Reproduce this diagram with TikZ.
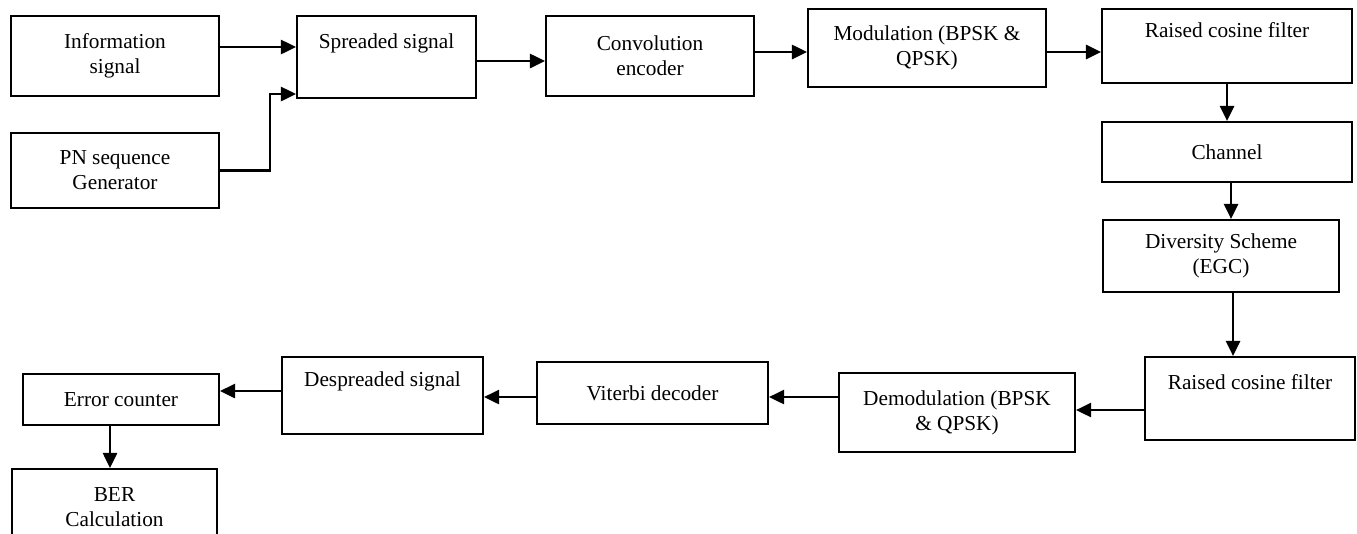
\documentclass[tikz,border=0pt]{standalone}
\usepackage{fontspec}
\setmainfont{Liberation Serif}
\usetikzlibrary{arrows.meta,calc}

\begin{document}
\begin{tikzpicture}[x=1pt, y=-1pt, line join=miter,
  blk/.style={draw, line width=2.1pt, align=center, inner sep=0pt,
              font=\fontsize{21.3}{25}\selectfont},
  arr/.style={line width=2.7pt, -{Triangle[length=15pt,width=14pt]}}]
  \useasboundingbox (0,0) rectangle (1357,533);

  %--- transmitter row ------------------------------------------------------
  \node[blk, minimum width=208pt, minimum height=80pt] (info)   at (115,56)    {Information\\signal};
  \node[blk, minimum width=208pt, minimum height=75pt] (pn)     at (115,170.5) {PN sequence\\Generator};
  \node[blk, minimum width=179pt, minimum height=82pt] (spread) at (386.5,57)  {Spreaded signal\\\strut};
  \node[blk, minimum width=208pt, minimum height=80pt] (conv)   at (650,56)    {Convolution\\encoder};
  \node[blk, minimum width=238pt, minimum height=78pt] (mod)    at (927,48)    {Modulation (BPSK \&\\QPSK)};
  \node[blk, minimum width=250pt, minimum height=74pt] (rcTx)   at (1227,46)   {Raised cosine filter\\\strut};

  %--- channel column -------------------------------------------------------
  \node[blk, minimum width=250pt, minimum height=60pt] (chan)   at (1227,152)  {Channel};
  \node[blk, minimum width=236pt, minimum height=72pt] (div)    at (1221,256)  {Diversity Scheme\\(EGC)};

  %--- receiver row ---------------------------------------------------------
  \node[blk, minimum width=210pt, minimum height=83pt] (rcRx)   at (1250,398.5) {Raised cosine filter\\\strut};
  \node[blk, minimum width=236pt, minimum height=79pt] (demod)  at (957,412.5)  {Demodulation (BPSK\\\& QPSK)};
  \node[blk, minimum width=231pt, minimum height=62pt] (vit)    at (652.5,393)  {Viterbi decoder};
  \node[blk, minimum width=201pt, minimum height=77pt] (desp)   at (382.5,395.5) {Despreaded signal\\\strut};
  \node[blk, minimum width=196pt, minimum height=51pt] (err)    at (121,399.5)  {Error counter};
  \node[blk, minimum width=205pt, minimum height=76pt] (ber)    at (114.5,507)  {BER\\Calculation};

  % arrow end points
  \coordinate (infoOut)  at ([yshift=9pt]info.east);
  \coordinate (pnIn)     at ([yshift=-37pt]spread.west);
  \coordinate (spreadOut) at ([yshift=-4pt]spread.east);
  \coordinate (convOut)  at ([yshift=4pt]conv.east);
  \coordinate (modOut)   at ([yshift=-4pt]mod.east);
  \coordinate (chanOut)  at ([xshift=4pt]chan.south);
  \coordinate (divOut)   at ([xshift=12pt]div.south);
  \coordinate (rcRxOut)  at ([yshift=-11.5pt]rcRx.west);
  \coordinate (vitIn)    at ([yshift=-4pt]vit.east);
  \coordinate (vitOut)   at ([yshift=-4pt]vit.west);
  \coordinate (despOut)  at ([yshift=4.5pt]desp.west);
  \coordinate (errOut)   at ([xshift=-11pt]err.south);

  %--- connectors -----------------------------------------------------------
  \draw[arr] (infoOut) -- (infoOut -| spread.west);
  \draw[arr] (pn.east) -- ++(50,0) |- (pnIn);
  \draw[arr] (spreadOut) -- (spreadOut -| conv.west);
  \draw[arr] (convOut) -- (convOut -| mod.west);
  \draw[arr] (modOut) -- (modOut -| rcTx.west);
  \draw[arr] (rcTx.south) -- (chan.north);
  \draw[arr] (chanOut) -- (chanOut |- div.north);
  \draw[arr] (divOut) -- (divOut |- rcRx.north);
  \draw[arr] (rcRxOut) -- (rcRxOut -| demod.east);
  \draw[arr] (demod.west |- vitIn) -- (vitIn);
  \draw[arr] (vitOut) -- (vitOut -| desp.east);
  \draw[arr] (despOut) -- (despOut -| err.east);
  \draw[arr] (errOut) -- (errOut |- ber.north);
\end{tikzpicture}
\end{document}
